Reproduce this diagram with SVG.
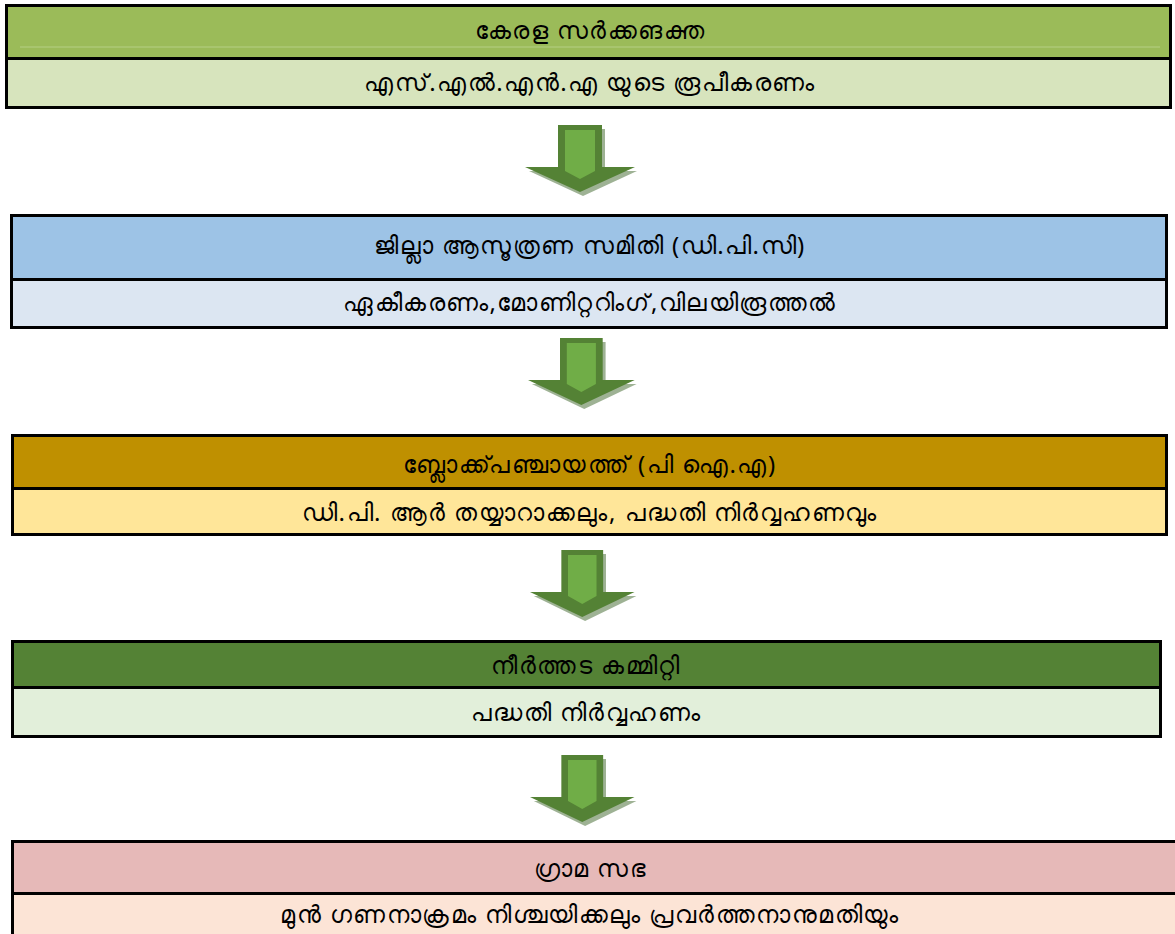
<svg xmlns="http://www.w3.org/2000/svg" width="1175" height="934" viewBox="0 0 1175 934">
<defs>
<style>
.box{stroke:#000;stroke-width:3}
.t{font-family:"Noto Sans","DejaVu Sans",sans-serif;font-size:24px;letter-spacing:1.5px;fill:#000;text-anchor:middle}
.ad{fill:#548235}
.ai{fill:#70AD47}
.as{fill:#7E9870;opacity:0.75}
</style>
<g id="arrow">
<path class="as" d="M36,4 H80 V46 H112 L58,71 L4,46 H36 Z"/>
<path class="ad" d="M33,0 H77 V42 H110 L55,67 L0,42 H33 Z"/>
<path class="ai" d="M40,5 H70 V46 L55,54 L40,46 Z"/>
</g>
</defs>
<rect width="1175" height="934" fill="#fff"/>
<g id="node1">
<rect class="box" x="6.5" y="5.5" width="1164" height="53" fill="#9BBB59"/>
<rect class="box" x="6.5" y="58.5" width="1164" height="49" fill="#D7E4BD"/>
<line x1="20" y1="47" x2="1160" y2="47" stroke="#B5CF85" stroke-width="1"/>
<text class="t" x="590" y="39">കേരള സർക്കങക്ത</text>
<text class="t" x="590" y="91">എസ്.എൽ.എൻ.എ യുടെ രൂപീകരണം</text>
</g>
<g id="node2">
<rect class="box" x="11.5" y="215.5" width="1155" height="64" fill="#9DC3E6"/>
<rect class="box" x="11.5" y="279.5" width="1155" height="48" fill="#DCE6F2"/>
<text class="t" x="590" y="254">ജില്ലാ ആസൂത്രണ സമിതി (ഡി.പി.സി)</text>
<text class="t" x="590" y="311">ഏകീകരണം,മോണിറ്ററിംഗ്,വിലയിരൂത്തൽ</text>
</g>
<g id="node3">
<rect class="box" x="12.5" y="435.5" width="1154" height="53" fill="#BF9000"/>
<rect class="box" x="12.5" y="488.5" width="1154" height="46" fill="#FFE699"/>
<text class="t" x="590" y="473">ബ്ലോക്ക്പഞ്ചായത്ത് (പി ഐ.എ)</text>
<text class="t" x="590" y="521">ഡി.പി. ആർ തയ്യാറാക്കലും, പദ്ധതി നിർവ്വഹണവും</text>
</g>
<g id="node4">
<rect class="box" x="12.5" y="641.5" width="1148" height="46" fill="#548235"/>
<rect class="box" x="12.5" y="687.5" width="1148" height="49" fill="#E2EFDA"/>
<text class="t" x="586" y="674">നീർത്തട കമ്മിറ്റി</text>
<text class="t" x="586" y="721">പദ്ധതി നിർവ്വഹണം</text>
</g>
<g id="node5">
<rect class="box" x="12.5" y="841.5" width="1170" height="52" fill="#E6B9B8"/>
<rect class="box" x="12.5" y="893.5" width="1170" height="50" fill="#FCE4D6"/>
<text class="t" x="590" y="877">ഗ്രാമ സഭ</text>
<text class="t" x="590" y="923">മുൻ ഗണനാക്രമം നിശ്ചയിക്കലും പ്രവർത്തനാനുമതിയും</text>
</g>
<g id="connectors">
<use href="#arrow" transform="translate(525,125)"/>
<use href="#arrow" transform="translate(528,338) scale(0.97,1.0)"/>
<use href="#arrow" transform="translate(530,550) scale(0.95,1.0)"/>
<use href="#arrow" transform="translate(530,755) scale(0.95,1.0)"/>
</g>
</svg>
